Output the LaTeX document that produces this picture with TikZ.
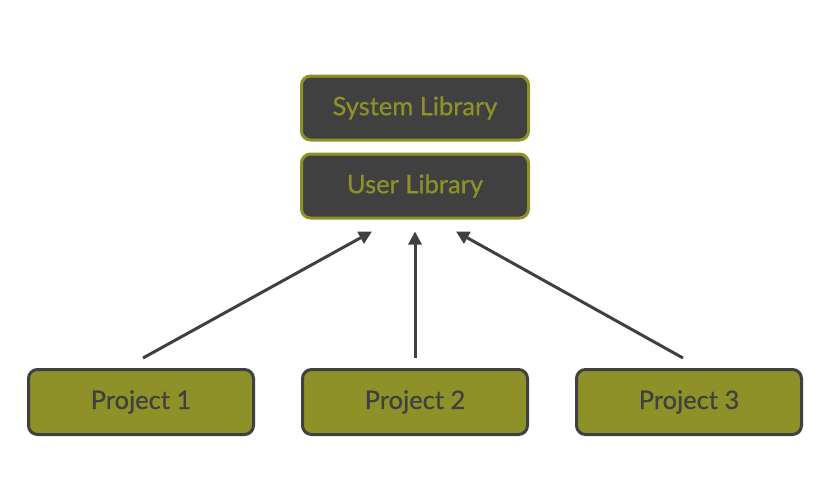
\documentclass[tikz,border=0pt]{standalone}
\usepackage{fontspec}
\setmainfont{Lato}
\newfontfamily\boxfont{Lato}[FakeBold=0.6]
\usetikzlibrary{positioning,arrows.meta}

\definecolor{libOlive}{HTML}{8E9128}
\definecolor{libDark}{HTML}{404040}

\tikzset{
  projbox/.style={draw=libDark, fill=libOlive, text=libDark, line width=3pt,
    rounded corners=9pt, minimum width=225pt, minimum height=65pt,
    font=\boxfont\fontsize{25.5}{30}\selectfont},
  libbox/.style={draw=libOlive, fill=libDark, text=libOlive, line width=3pt,
    rounded corners=9pt, minimum width=227pt, minimum height=64pt,
    font=\boxfont\fontsize{25.5}{30}\selectfont},
  deparrow/.style={draw=libDark, line width=3pt,
    -{Triangle[length=13pt,width=13pt]}},
}

\begin{document}
\begin{tikzpicture}[x=1pt, y=-1pt]

  %% libraries
  \node[libbox] (syslib) at (415,108) {System Library};
  \node[libbox] (userlib) at (415,186) {User Library};

  %% projects
  \node[projbox] (proj1) at (141,402) {Project 1};
  \node[projbox] (proj2) at (415,402) {Project 2};
  \node[projbox] (proj3) at (689,402) {Project 3};

  %% dependencies
  \draw[deparrow] ([shift={(2,-10)}]proj1.north) -- ([shift={(-43,12)}]userlib.south);
  \draw[deparrow] ([shift={(0,-10)}]proj2.north) -- ([shift={(0,12)}]userlib.south);
  \draw[deparrow] ([shift={(-6,-10)}]proj3.north) -- ([shift={(41,12)}]userlib.south);

  % fix the canvas
  \pgfresetboundingbox
  \path[use as bounding box] (0,0) rectangle (833,483);
\end{tikzpicture}
\end{document}
